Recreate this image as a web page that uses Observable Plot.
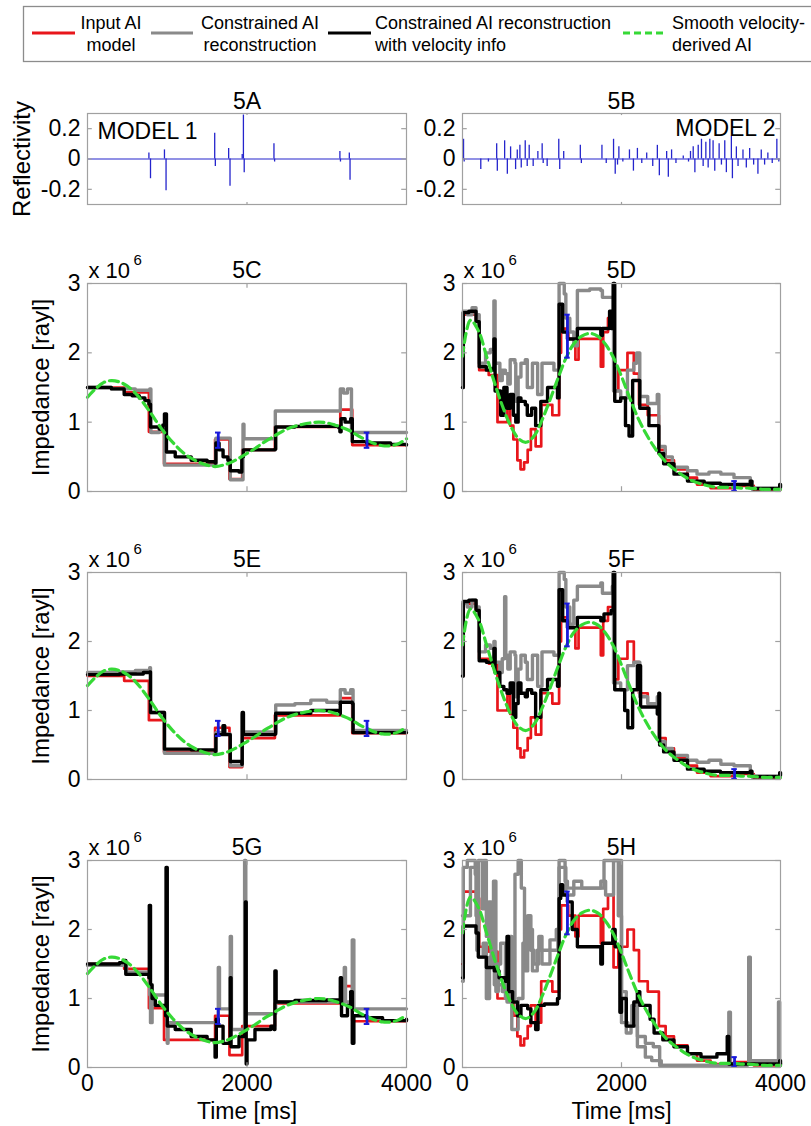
<!DOCTYPE html>
<html><head><meta charset="utf-8">
<script src="https://cdn.jsdelivr.net/npm/d3@7"></script>
<script src="https://cdn.jsdelivr.net/npm/@observablehq/plot@0.6"></script>
<style>
body{margin:0;background:#fff;}
#root{position:relative;width:811px;height:1126px;overflow:hidden;background:#fff;}
#root svg{overflow:visible;}
</style>
</head><body><div id="root"></div>
<script>
// ---------- tick labels / categories ----------
const timeTicks = [0, 2000, 4000];
const impTicks = [0, 1, 2, 3];
const reflTicks = [-0.2, 0, 0.2];
const legendLine1 = ["Input AI", "Constrained AI", "Constrained AI reconstruction", "Smooth velocity-"];
const legendLine2 = ["model", "reconstruction", "with velocity info", "derived AI"];
const panelTitles = ["5A", "5B", "5C", "5D", "5E", "5F", "5G", "5H"];

// ---------- reflectivity (time ms, reflectivity) ----------
const refl1 = [[770,0.04],[790,-0.13],[965,0.06],[985,-0.21],[1595,0.17],[1603,-0.05],[1770,0.07],[1787,-0.18],[1940,0.03],[1955,0.29],[1965,-0.09],[2338,0.10],[2346,-0.02],[3165,0.05],[3172,-0.02],[3283,0.04],[3292,-0.14]];
const refl2 = [[13,0.13],[21,-0.02],[230,-0.07],[326,-0.02],[430,0.10],[438,-0.08],[530,0.12],[564,-0.10],[605,0.08],[668,-0.07],[689,0.06],[722,0.09],[739,-0.06],[789,0.12],[814,-0.05],[839,0.09],[889,-0.05],[948,0.05],[1002,0.10],[1015,-0.03],[1065,-0.05],[1211,0.13],[1223,-0.07],[1273,0.05],[1482,0.09],[1495,-0.03],[1754,0.09],[1808,-0.03],[1900,0.13],[1921,-0.10],[1950,-0.04],[1967,0.08],[2017,-0.02],[2100,0.06],[2150,-0.08],[2200,0.07],[2255,-0.03],[2317,0.04],[2393,-0.05],[2451,0.09],[2476,-0.11],[2568,0.05],[2589,-0.12],[2630,0.06],[2685,-0.03],[2777,0.02],[2843,-0.02],[2868,0.05],[2902,0.08],[2923,-0.09],[2965,0.09],[3006,0.13],[3027,-0.05],[3061,0.11],[3090,-0.06],[3111,0.13],[3152,0.12],[3173,-0.08],[3228,0.10],[3257,-0.04],[3299,0.12],[3319,-0.09],[3382,0.15],[3395,-0.13],[3445,0.08],[3466,-0.05],[3528,0.06],[3570,-0.06],[3612,0.07],[3662,-0.04],[3716,-0.10],[3758,0.06],[3800,-0.04],[3841,0.04],[3896,-0.03],[3954,0.13],[3979,-0.02]];

// ---------- impedance (time ms, impedance x 10^6 rayl) ----------
// Model 1
const m1Red = [[0,1.50],[460,1.43],[770,0.86],[960,0.40],[1600,0.75],[1780,0.18],[1940,0.60],[2350,0.93],[3170,1.18],[3320,0.67],[4000,0.67]];
const m1Smooth = [[0,1.36],[100,1.48],[200,1.57],[300,1.60],[400,1.58],[500,1.52],[600,1.42],[700,1.28],[800,1.12],[900,0.95],[1000,0.80],[1100,0.67],[1200,0.56],[1300,0.48],[1400,0.42],[1500,0.38],[1600,0.36],[1700,0.38],[1800,0.42],[1900,0.48],[2000,0.55],[2100,0.62],[2200,0.70],[2300,0.77],[2400,0.84],[2500,0.90],[2600,0.94],[2700,0.97],[2800,0.99],[2900,1.00],[3000,0.99],[3100,0.96],[3200,0.92],[3300,0.87],[3400,0.80],[3500,0.74],[3600,0.69],[3700,0.66],[3800,0.66],[3900,0.69],[4000,0.76]];
const m1Err = [{t:1640, lo:0.63, hi:0.85}, {t:3505, lo:0.63, hi:0.85}];
// Model 2
const m2Red = [[0,1.50],[15,2.55],[170,2.45],[210,1.75],[330,1.68],[440,1.00],[565,1.22],[600,0.95],[640,0.75],[690,0.45],[730,0.32],[775,0.42],[820,0.60],[860,0.90],[920,0.65],[990,1.25],[1130,1.10],[1215,2.00],[1240,2.35],[1330,2.20],[1420,1.90],[1460,2.20],[1740,1.80],[1770,2.30],[1830,2.50],[1900,1.45],[1960,1.75],[2075,2.00],[2155,1.70],[2220,1.25],[2330,1.10],[2470,0.60],[2555,0.45],[2660,0.32],[2830,0.20],[2950,0.10],[3120,0.05],[3415,0.08],[3665,0.03],[4000,0.03]];
const m2Smooth = [[0,1.95],[100,2.47],[200,2.32],[300,1.96],[400,1.58],[500,1.24],[600,0.96],[700,0.77],[800,0.71],[900,0.80],[1000,1.03],[1100,1.32],[1200,1.63],[1300,1.92],[1400,2.13],[1500,2.24],[1600,2.28],[1700,2.24],[1800,2.12],[1900,1.93],[2000,1.66],[2100,1.36],[2200,1.08],[2300,0.85],[2400,0.66],[2500,0.50],[2600,0.38],[2700,0.29],[2800,0.21],[2900,0.15],[3000,0.11],[3100,0.08],[3200,0.06],[3300,0.06],[3400,0.06],[3500,0.05],[3600,0.05],[3700,0.04],[3800,0.03],[3900,0.03],[4000,0.03]];
const m2Err = [{t:1320, lo:1.93, hi:2.55}, {t:3422, lo:0.01, hi:0.15}];

// Panel 5C
const cGray = [[0,1.50],[300,1.48],[600,1.46],[780,1.48],[795,0.85],[900,0.90],[950,0.86],[965,0.38],[1600,0.38],[1610,0.77],[1790,0.17],[1950,0.97],[1962,0.76],[2350,0.76],[2355,1.16],[3160,1.16],[3170,1.48],[3210,1.42],[3260,1.48],[3310,0.85],[4000,0.85]];
const cBlack = [[0,1.50],[300,1.48],[460,1.40],[560,1.38],[650,1.35],[720,1.31],[770,1.26],[790,0.93],[900,0.90],[945,0.96],[965,1.12],[990,0.57],[1100,0.50],[1300,0.45],[1500,0.43],[1600,0.41],[1610,0.70],[1650,0.60],[1700,0.50],[1760,0.45],[1790,0.30],[1900,0.28],[1935,0.50],[1955,0.60],[2350,0.61],[2360,0.93],[2600,0.94],[3000,0.94],[3150,0.92],[3165,0.86],[3180,1.05],[3230,1.00],[3300,1.05],[3320,0.72],[3500,0.70],[3800,0.68],[4000,0.67]];
// Panel 5D
const dGray = [[0,1.50],[10,2.60],[60,2.55],[120,2.65],[170,2.55],[210,1.85],[290,2.00],[350,2.05],[395,2.75],[410,1.85],[470,1.60],[500,1.75],[540,1.70],[570,1.55],[600,1.90],[660,1.85],[670,1.30],[700,1.65],[735,1.85],[790,1.90],[815,1.50],[880,1.85],[945,1.40],[1000,1.85],[1150,1.75],[1215,3.00],[1280,2.85],[1300,2.50],[1350,2.30],[1400,2.10],[1445,2.90],[1600,2.92],[1740,2.90],[1760,2.80],[1885,2.80],[1900,1.45],[1990,1.35],[2075,1.75],[2155,1.85],[2190,2.00],[2230,1.37],[2330,1.27],[2450,1.40],[2470,0.65],[2550,0.50],[2640,0.35],[2830,0.30],[2950,0.25],[3100,0.28],[3250,0.25],[3415,0.20],[3620,0.15],[3640,0.05],[4000,0.05]];
const dBlack = [[0,1.50],[10,2.58],[80,2.60],[170,2.45],[210,1.80],[300,1.75],[380,1.78],[395,2.20],[410,1.45],[470,1.45],[480,1.10],[520,1.50],[560,1.20],[600,1.40],[640,1.10],[670,1.00],[700,1.35],[735,1.30],[790,1.25],[815,1.10],[870,1.20],[920,0.95],[985,1.30],[1070,1.50],[1195,1.35],[1215,2.70],[1260,2.30],[1320,2.20],[1445,2.35],[1740,2.25],[1760,2.35],[1850,2.60],[1870,2.35],[1895,3.00],[1915,1.30],[1990,1.35],[2050,0.95],[2095,0.80],[2140,1.60],[2230,1.20],[2345,0.95],[2470,0.55],[2530,0.40],[2660,0.25],[2830,0.15],[3040,0.12],[3245,0.10],[3620,0.15],[3640,0.04],[3980,0.04],[3990,0.10],[4000,0.06]];
// Panel 5E
const eGray = [[0,1.55],[300,1.56],[600,1.58],[780,1.62],[790,0.97],[960,0.97],[965,0.38],[1600,0.38],[1610,0.68],[1700,0.78],[1720,0.66],[1780,0.66],[1790,0.20],[1935,0.20],[1940,0.95],[1955,0.69],[2350,0.69],[2360,1.08],[2600,1.10],[2800,1.15],[3000,1.12],[3160,1.10],[3170,1.30],[3230,1.25],[3300,1.30],[3330,0.71],[4000,0.71]];
const eBlack = [[0,1.52],[400,1.53],[700,1.55],[780,1.56],[790,0.97],[960,0.97],[965,0.44],[1300,0.43],[1600,0.41],[1610,0.65],[1700,0.78],[1720,0.65],[1780,0.65],[1790,0.26],[1935,0.22],[1940,0.97],[1955,0.65],[2350,0.66],[2360,0.96],[2800,1.00],[3160,0.95],[3170,1.12],[3320,1.10],[3330,0.68],[4000,0.68]];
// Panel 5F
const fGray = [[0,1.50],[10,2.55],[60,2.50],[120,2.60],[170,2.50],[210,1.85],[290,1.95],[350,1.90],[395,2.00],[410,1.70],[470,1.55],[500,1.75],[530,2.65],[545,1.80],[570,1.60],[600,1.85],[660,1.80],[670,1.20],[700,1.60],[735,1.80],[790,1.70],[815,1.45],[880,1.80],[945,1.35],[1000,1.85],[1150,1.80],[1215,3.00],[1280,2.90],[1300,2.50],[1350,2.25],[1400,2.60],[1445,2.80],[1600,2.80],[1740,2.85],[1760,2.70],[1885,2.80],[1900,1.40],[1990,1.30],[2075,1.65],[2155,1.70],[2230,1.20],[2330,1.10],[2450,1.20],[2470,0.55],[2550,0.45],[2640,0.35],[2830,0.28],[2950,0.25],[3100,0.28],[3250,0.22],[3415,0.20],[3620,0.12],[3640,0.05],[4000,0.05]];
const fBlack = [[0,1.50],[10,2.58],[80,2.60],[170,2.45],[210,1.72],[300,1.70],[380,1.65],[395,1.90],[410,1.55],[470,1.35],[520,1.30],[560,1.25],[600,1.40],[640,0.90],[670,1.10],[700,1.40],[735,1.25],[790,1.20],[815,1.30],[870,1.25],[920,0.90],[985,1.30],[1070,1.45],[1195,1.35],[1215,2.75],[1260,2.30],[1320,2.20],[1445,2.35],[1740,2.30],[1780,2.40],[1870,2.45],[1895,3.00],[1915,1.30],[2040,1.00],[2080,0.75],[2140,1.30],[2200,1.65],[2240,1.05],[2450,0.95],[2470,1.25],[2480,0.50],[2530,0.40],[2660,0.28],[2830,0.15],[3040,0.12],[3245,0.10],[3620,0.12],[3640,0.04],[3980,0.04],[3990,0.10],[4000,0.06]];
// Panel 5G
const gGray = [[0,1.48],[480,1.48],[490,1.38],[770,1.38],[780,1.05],[790,0.65],[810,1.05],[990,1.05],[1000,0.35],[1010,0.65],[1630,0.65],[1640,1.45],[1655,0.85],[1780,0.85],[1790,1.90],[1805,0.55],[1960,0.55],[1970,3.00],[1985,0.78],[2350,0.78],[2360,0.95],[3210,0.95],[3220,1.45],[3235,0.95],[3310,0.95],[3320,1.85],[3340,0.85],[4000,0.85]];
const gBlack = [[0,1.50],[400,1.52],[450,1.55],[480,1.35],[770,1.30],[775,2.35],[790,1.20],[810,1.00],[850,0.90],[980,0.75],[985,2.90],[1000,0.60],[1100,0.55],[1300,0.45],[1500,0.40],[1590,0.38],[1600,0.15],[1615,0.70],[1640,0.60],[1700,0.35],[1780,0.40],[1790,1.30],[1800,0.30],[1900,0.45],[1970,0.50],[1980,2.40],[1990,0.05],[2000,0.40],[2100,0.55],[2300,0.60],[2340,0.55],[2350,1.40],[2365,0.95],[2600,0.97],[3000,0.98],[3150,0.95],[3170,1.30],[3185,0.75],[3260,0.90],[3300,1.10],[3320,0.35],[3340,0.75],[3500,0.72],[3700,0.68],[4000,0.70]];
// Panel 5H
const hGray = [[0,1.25],[10,2.90],[60,3.00],[160,2.80],[180,1.70],[200,3.00],[250,2.30],[265,3.00],[300,1.90],[330,2.40],[360,1.50],[390,2.70],[420,1.10],[450,1.50],[480,1.80],[540,1.00],[580,1.90],[620,1.00],[660,2.80],[700,3.00],[740,2.60],[780,1.40],[820,2.20],[860,1.70],[900,1.50],[960,1.90],[1000,1.70],[1100,1.85],[1180,2.00],[1215,3.00],[1290,2.70],[1320,2.60],[1740,2.60],[1780,3.00],[1990,3.00],[2000,1.10],[2060,0.50],[2120,0.60],[2200,0.45],[2300,0.35],[2400,0.30],[2480,0.10],[2500,0.03],[3300,0.02],[3350,0.80],[3370,0.02],[3580,0.05],[3600,1.60],[3620,0.10],[3960,0.05],[3975,0.95],[3990,0.05],[4000,0.05]];
const hGray2 = [[0,2.20],[100,2.90],[170,2.20],[200,1.60],[260,1.80],[300,1.00],[340,1.60],[400,1.20],[500,1.10],[560,0.95],[620,0.55],[700,1.00],[760,1.80],[800,2.00],[880,1.40],[940,1.70],[1000,1.50],[1100,1.70],[1200,1.90],[1215,2.90],[1300,2.50],[1400,2.70],[1500,2.60],[1740,2.70],[1800,2.50],[1900,3.00],[1960,2.20],[2000,0.65],[2080,0.60],[2130,0.90],[2200,0.30],[2300,0.15],[2380,0.10],[2480,0.03],[3000,0.03],[3300,0.05],[4000,0.03]];
const hBlack = [[0,1.30],[10,2.05],[100,2.05],[170,1.95],[200,1.60],[300,1.45],[400,1.40],[460,1.30],[540,1.25],[560,1.90],[580,1.10],[630,0.95],[690,0.75],[735,0.90],[820,0.85],[860,0.65],[920,0.55],[950,0.90],[1030,0.92],[1195,1.00],[1215,2.45],[1235,2.65],[1260,2.50],[1320,2.40],[1380,2.00],[1445,1.75],[1740,1.50],[1760,1.80],[1890,2.00],[1920,1.75],[1980,0.80],[2000,1.00],[2060,0.60],[2155,0.95],[2200,1.10],[2230,0.90],[2360,0.70],[2410,0.50],[2520,0.40],[2660,0.30],[2830,0.20],[3000,0.15],[3200,0.20],[3330,0.45],[3350,0.05],[3980,0.05],[3990,0.10],[4000,0.05]];

// ---------- styles ----------
const FONT = "'Liberation Sans', Arial, Helvetica, sans-serif";
const RED = "#e8161b", GRAY = "#8a8a8a", BLACK = "#000000", GREEN = "#36d936", BLUE = "#1a1adb", TRACE = "#2424cc", FRAME = "#a0a0a0";

const root = document.getElementById("root");
function place(el, left, top) {
  el.style.position = "absolute";
  el.style.left = left + "px";
  el.style.top = top + "px";
  root.appendChild(el);
}

const cols = [{left: 0, width: 420, ml: 87, mr: 14}, {left: 420, width: 391, ml: 42, mr: 31}];
const xy = {x: d => d[0], y: d => d[1]};

function commonTicks(ticks, ymin, ymax) {
  const tx = (ymax - ymin) * 0.023;
  return [
    Plot.frame({stroke: FRAME, strokeWidth: 1.2}),
    Plot.ruleY(ticks, {y: d => d, x1: () => 0, x2: () => 60, stroke: FRAME, strokeWidth: 1.2}),
    Plot.ruleY(ticks, {y: d => d, x1: () => 3940, x2: () => 4000, stroke: FRAME, strokeWidth: 1.2}),
    Plot.ruleX([2000], {x: d => d, y1: () => ymin, y2: () => ymin + tx, stroke: FRAME, strokeWidth: 1.2}),
    Plot.ruleX([2000], {x: d => d, y1: () => ymax - tx, y2: () => ymax, stroke: FRAME, strokeWidth: 1.2}),
    Plot.text(ticks, {x: () => 0, y: d => d, text: d => String(d), textAnchor: "end", dx: -7, fontSize: 23})
  ];
}

function reflPanel(spikes, title, model, col, showLabel, modelRight) {
  const c = cols[col];
  const marks = [
    Plot.ruleY([0], {y: d => d, stroke: TRACE, strokeWidth: 1.1}),
    Plot.ruleX(spikes, {x: d => d[0], y1: () => 0, y2: d => d[1], stroke: TRACE, strokeWidth: 1.3}),
    ...commonTicks(reflTicks, -0.3, 0.3),
    Plot.text([title], {frameAnchor: "top", lineAnchor: "middle", dy: -12, fontSize: 23}),
    Plot.text([model], {x: () => modelRight ? 3937 : 125, y: () => modelRight ? 0.2 : 0.18, textAnchor: modelRight ? "end" : "start", fontSize: 23})
  ];
  if (showLabel) marks.push(Plot.text(["Reflectivity"], {frameAnchor: "left", textAnchor: "middle", lineAnchor: "middle", rotate: -90, dx: -65, fontSize: 24}));
  const svg = Plot.plot({
    width: c.width, height: 40 + 91 + 20,
    marginLeft: c.ml, marginRight: c.mr, marginTop: 40, marginBottom: 20,
    x: {domain: [0, 4000], axis: null},
    y: {domain: [-0.3, 0.3], axis: null},
    style: {fontFamily: FONT, background: "transparent", overflow: "visible", color: "#000"},
    marks
  });
  place(svg, c.left, 113 - 40);
}

function impPanel(o) {
  const c = cols[o.col];
  const marks = [
    Plot.line(o.red, {...xy, curve: "step-after", stroke: RED, strokeWidth: 2.7}),
    ...o.grays.map(g => Plot.line(g, {...xy, curve: "step-after", stroke: GRAY, strokeWidth: 3.4})),
    Plot.line(o.black, {...xy, curve: "step-after", stroke: BLACK, strokeWidth: 3.4}),
    Plot.line(o.smooth, {...xy, curve: "catmull-rom", stroke: GREEN, strokeWidth: 3.2, strokeDasharray: "9,5"}),
    Plot.ruleX(o.err, {x: "t", y1: "lo", y2: "hi", stroke: BLUE, strokeWidth: 2.8}),
    Plot.ruleY(o.err, {y: "lo", x1: d => d.t - 35, x2: d => d.t + 35, stroke: BLUE, strokeWidth: 2}),
    Plot.ruleY(o.err, {y: "hi", x1: d => d.t - 35, x2: d => d.t + 35, stroke: BLUE, strokeWidth: 2}),
    ...commonTicks(impTicks, 0, 3),
    Plot.text([o.title], {frameAnchor: "top", lineAnchor: "middle", dy: -13, fontSize: 23}),
    Plot.text(["x 10"], {frameAnchor: "top-left", textAnchor: "start", lineAnchor: "middle", dx: 1, dy: -13, fontSize: 22}),
    Plot.text(["6"], {frameAnchor: "top-left", textAnchor: "start", lineAnchor: "middle", dx: 46, dy: -23, fontSize: 15})
  ];
  if (o.col === 0) marks.push(Plot.text(["Impedance [rayl]"], {frameAnchor: "left", textAnchor: "middle", lineAnchor: "middle", rotate: -90, dx: -46, fontSize: 24}));
  const mb = o.xAxis ? 59 : 20;
  if (o.xAxis) {
    marks.push(
      Plot.text(timeTicks, {x: d => d, y: () => 0, text: d => String(d), lineAnchor: "middle", dy: 16, fontSize: 23}),
      Plot.text(["Time [ms]"], {frameAnchor: "bottom", lineAnchor: "middle", dy: 44, fontSize: 23})
    );
  }
  const svg = Plot.plot({
    width: c.width, height: 40 + o.h + mb,
    marginLeft: c.ml, marginRight: c.mr, marginTop: 40, marginBottom: mb,
    x: {domain: [0, 4000], axis: null},
    y: {domain: [0, 3], axis: null},
    style: {fontFamily: FONT, background: "transparent", overflow: "visible", color: "#000"},
    marks
  });
  place(svg, c.left, o.top - 40);
}

// ---------- legend ----------
(function legend() {
  const svg = d3.create("svg").attr("width", 811).attr("height", 70)
    .style("font-family", FONT).style("overflow", "visible");
  svg.append("rect").attr("x", 23.5).attr("y", 6.5).attr("width", 830).attr("height", 55)
    .attr("fill", "#fff").attr("stroke", "#8c8c8c").attr("stroke-width", 1.3);
  const items = [
    {color: RED, x1: 32, x2: 75, tx: 111, anchor: "middle", dash: null},
    {color: GRAY, x1: 151, x2: 193, tx: 260, anchor: "middle", dash: null},
    {color: BLACK, x1: 328, x2: 371, tx: 375, anchor: "start", dash: null},
    {color: GREEN, x1: 623, x2: 665, tx: 672, anchor: "start", dash: "7,4"}
  ];
  items.forEach((it, i) => {
    const l = svg.append("line").attr("x1", it.x1).attr("x2", it.x2).attr("y1", 33).attr("y2", 33)
      .attr("stroke", it.color).attr("stroke-width", 3);
    if (it.dash) l.attr("stroke-dasharray", it.dash);
    svg.append("text").attr("x", it.tx).attr("y", 29).attr("text-anchor", it.anchor)
      .attr("font-size", 18).text(legendLine1[i]);
    svg.append("text").attr("x", it.tx).attr("y", 51).attr("text-anchor", it.anchor)
      .attr("font-size", 18).text(legendLine2[i]);
  });
  place(svg.node(), 0, 0);
})();

// ---------- panels ----------
reflPanel(refl1, panelTitles[0], "MODEL 1", 0, true, false);
reflPanel(refl2, panelTitles[1], "MODEL 2", 1, false, true);

impPanel({col: 0, top: 283, h: 208, title: panelTitles[2], red: m1Red, grays: [cGray], black: cBlack, smooth: m1Smooth, err: m1Err});
impPanel({col: 1, top: 283, h: 208, title: panelTitles[3], red: m2Red, grays: [dGray], black: dBlack, smooth: m2Smooth, err: m2Err});
impPanel({col: 0, top: 572, h: 207, title: panelTitles[4], red: m1Red, grays: [eGray], black: eBlack, smooth: m1Smooth, err: m1Err});
impPanel({col: 1, top: 572, h: 207, title: panelTitles[5], red: m2Red, grays: [fGray], black: fBlack, smooth: m2Smooth, err: m2Err});
impPanel({col: 0, top: 860, h: 207, title: panelTitles[6], red: m1Red, grays: [gGray], black: gBlack, smooth: m1Smooth, err: m1Err, xAxis: true});
impPanel({col: 1, top: 860, h: 207, title: panelTitles[7], red: m2Red, grays: [hGray, hGray2], black: hBlack, smooth: m2Smooth, err: m2Err, xAxis: true});
</script>
</body></html>
